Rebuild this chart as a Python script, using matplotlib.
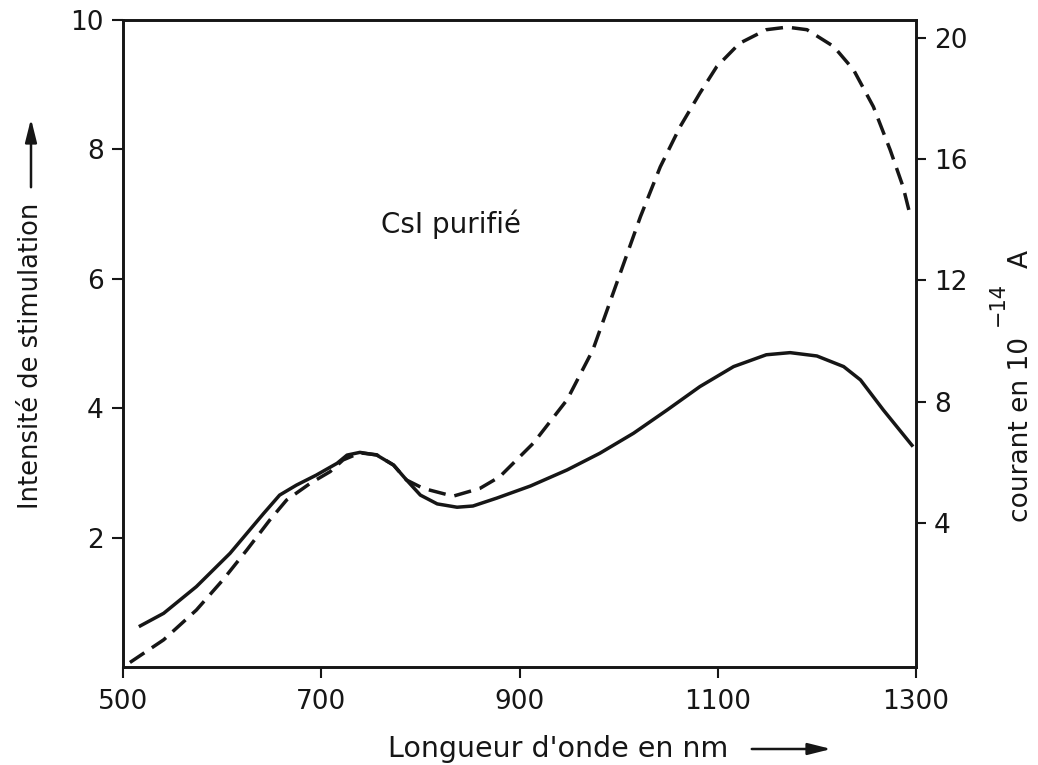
import matplotlib
matplotlib.use("Agg")
import matplotlib.pyplot as plt
from matplotlib.patches import FancyArrowPatch

plt.rcParams["font.family"] = ["DejaVu Sans"]

# Wavelength (nm) and stimulation intensity (left axis), dashed curve
wl_stim = [507, 541, 574, 601, 625, 648, 665, 689, 709, 722, 739, 756, 773,
           786, 803, 833, 860, 880, 914, 948, 974, 998, 1022, 1042,
           1062, 1082, 1099, 1122, 1149, 1170, 1190, 1217, 1237, 1257, 1274,
           1287, 1294]
intensite = [0.07, 0.42, 0.88, 1.35, 1.81, 2.27, 2.58, 2.84, 3.02, 3.20,
             3.31, 3.28, 3.12, 2.89, 2.76, 2.64, 2.76, 2.94, 3.46,
             4.13, 4.90, 5.93, 6.96, 7.73, 8.35, 8.87, 9.28, 9.64, 9.85,
             9.89, 9.85, 9.59, 9.23, 8.66, 7.99, 7.42, 6.99]

# Wavelength (nm) and photocurrent in 1e-14 A (right axis), solid curve
wl_courant = [516, 541, 574, 608, 625, 642, 658, 675, 695, 716, 726, 739,
              756, 773, 786, 800, 817, 837, 853, 877, 911, 948, 981, 1015,
              1049, 1082, 1116, 1149, 1173, 1200, 1227, 1244, 1267, 1297]
courant = [0.58, 1.02, 1.90, 3.00, 3.66, 4.32, 4.92, 5.25, 5.58, 5.97,
           6.24, 6.33, 6.24, 5.91, 5.42, 4.92, 4.63, 4.52, 4.56, 4.82,
           5.22, 5.75, 6.30, 6.96, 7.73, 8.50, 9.16, 9.55, 9.62, 9.51,
           9.16, 8.72, 7.73, 6.52]

x_ticks = [500, 700, 900, 1100, 1300]
left_ticks = [2, 4, 6, 8, 10]
right_ticks = [4, 8, 12, 16, 20]

ink = "#161616"
W, H = 1038, 765
fig = plt.figure(figsize=(W / 100, H / 100), dpi=100)
fig.patch.set_facecolor("white")

ax = fig.add_axes([123 / W, 1 - 667 / H, (916 - 123) / W, (667 - 20) / H])
ax2 = ax.twinx()

ax.set_xlim(500, 1300)
ax.set_ylim(0, 10)
ax2.set_ylim(-0.751, 20.594)

ax.plot(wl_stim, intensite, color=ink, lw=2.5, linestyle=(0, (5.0, 2.6)),
        dash_capstyle="butt", dash_joinstyle="round")
ax2.plot(wl_courant, courant, color=ink, lw=2.5, solid_capstyle="butt",
         solid_joinstyle="round")

ax.set_xticks(x_ticks)
ax.set_xticklabels([str(v) for v in x_ticks])
ax.set_yticks(left_ticks)
ax.set_yticklabels([str(v) for v in left_ticks])
ax2.set_yticks(right_ticks)
ax2.set_yticklabels([str(v) for v in right_ticks])

for a in (ax, ax2):
    for s in a.spines.values():
        s.set_linewidth(1.9)
        s.set_color(ink)
ax.tick_params(axis="both", direction="out", length=8, width=1.5,
               colors=ink, labelsize=19, pad=6)
ax.tick_params(axis="y", right=False)
ax.tick_params(axis="x", pad=8)
ax2.tick_params(axis="y", direction="out", length=7, width=1.5,
                colors=ink, labelsize=19, pad=6)

ax.text(451 / W, 1 - 224 / H, "CsI purifié", fontsize=20, color=ink,
        ha="center", va="center", transform=fig.transFigure)

# Axis titles with their arrows
arrow_style = "-|>,head_length=14,head_width=3.5"
fig.text(558 / W, 1 - 757 / H, "Longueur d'onde en nm", fontsize=20.5,
         color=ink, ha="center", va="baseline")
fig.patches.append(FancyArrowPatch(
    (749 / W, 1 - 749 / H), (834 / W, 1 - 749 / H),
    transform=fig.transFigure, arrowstyle=arrow_style,
    color=ink, lw=1.8, mutation_scale=1))

fig.text(31 / W, 1 - 356 / H, "Intensité de stimulation", fontsize=18.5,
         color=ink, ha="center", va="center", rotation=90)
fig.patches.append(FancyArrowPatch(
    (31 / W, 1 - 190 / H), (31 / W, 1 - 116 / H),
    transform=fig.transFigure, arrowstyle=arrow_style,
    color=ink, lw=1.8, mutation_scale=1))

# Right-hand title: main text, exponent and unit placed along the axis
fig.text(1021 / W, 1 - 522 / H, "courant en 10", fontsize=19, color=ink,
         ha="center", va="bottom", rotation=90)
fig.text(998 / W, 1 - 326 / H, "\u221214", fontsize=15, color=ink,
         ha="center", va="bottom", rotation=90)
fig.text(1021 / W, 1 - 268 / H, "A", fontsize=19, color=ink,
         ha="center", va="bottom", rotation=90)

fig.savefig("out.png", dpi=100, facecolor="white")
